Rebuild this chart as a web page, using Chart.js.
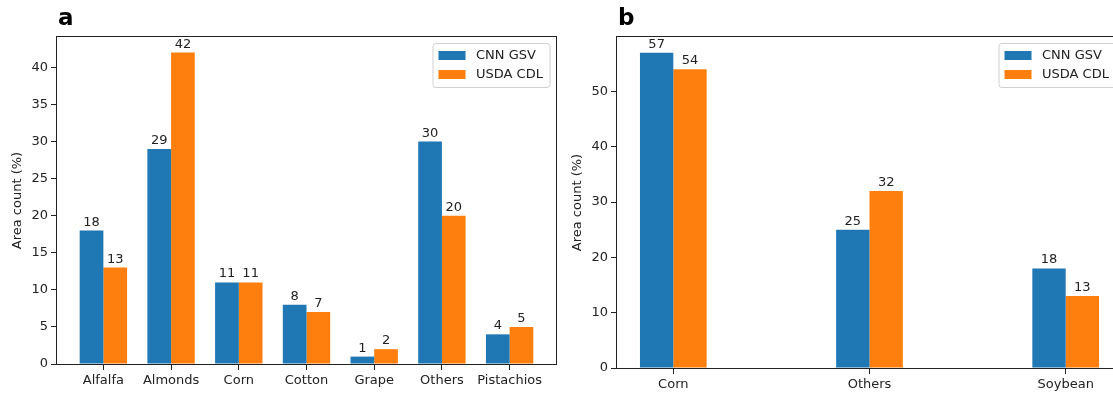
<!DOCTYPE html>
<html><head><meta charset="utf-8">
<script src="https://cdn.jsdelivr.net/npm/chart.js@4"></script>
<style>
html,body{margin:0;padding:0;background:#fff;overflow:hidden;width:1113px;height:396px;position:relative;}
#ca{position:absolute;left:0;top:0;}
#cb{position:absolute;left:560px;top:0;}
</style></head><body>
<canvas id="ca" width="560" height="396"></canvas>
<canvas id="cb" width="566" height="396"></canvas>
<script>
// ---- data ----
const seriesNames = ['CNN GSV', 'USDA CDL'];
const catsA = ['Alfalfa', 'Almonds', 'Corn', 'Cotton', 'Grape', 'Others', 'Pistachios'];
const cnnA = [18, 29, 11, 8, 1, 30, 4];
const usdaA = [13, 42, 11, 7, 2, 20, 5];
const yTicksA = [0, 5, 10, 15, 20, 25, 30, 35, 40];
const catsB = ['Corn', 'Others', 'Soybean'];
const cnnB = [57, 25, 18];
const usdaB = [54, 32, 13];
const yTicksB = [0, 10, 20, 30, 40, 50];
const yTitle = 'Area count (%)';

const FONT = "'DejaVu Sans', sans-serif";
const TXT = '#222';
const BLUE = '#1f77b4', ORANGE = '#ff7f0e';

function makeChart(id, letter, cats, s1, s2, yTicks, yMax, barW, xAxisH, topPad) {
  const marg = 0.05 * ((cats.length - 1) + 2 * barW);
  const xMin = -barW - marg, xMax = cats.length - 1 + barW + marg;
  const panel = {
    id: 'panel_' + id,
    afterDraw(chart) {
      const ctx = chart.ctx, a = chart.chartArea;
      ctx.save();
      // value labels
      ctx.font = '13px ' + FONT;
      ctx.fillStyle = TXT;
      ctx.textAlign = 'center';
      ctx.textBaseline = 'alphabetic';
      chart.data.datasets.forEach((ds, di) => {
        const meta = chart.getDatasetMeta(di);
        meta.data.forEach((el, i) => {
          ctx.fillText(String(ds.data[i].y), el.x, el.y - 5);
        });
      });
      // frame
      ctx.strokeStyle = '#222';
      ctx.lineWidth = 1;
      ctx.strokeRect(a.left - 0.5, a.top - 0.5, a.right - a.left + 1, a.bottom - a.top + 1);
      // panel letter
      ctx.font = 'bold 23px ' + FONT;
      ctx.fillStyle = '#000';
      ctx.textAlign = 'left';
      ctx.fillText(letter, a.left + 1, 25);
      // legend
      const bw = 117, bh = 44;
      const bx = a.right - 6.5 - bw, by = a.top + 6;
      ctx.beginPath();
      if (ctx.roundRect) ctx.roundRect(bx + 0.5, by + 0.5, bw, bh, 3); else ctx.rect(bx + 0.5, by + 0.5, bw, bh);
      ctx.fillStyle = 'rgba(255,255,255,0.8)';
      ctx.fill();
      ctx.strokeStyle = '#d0d0d0';
      ctx.stroke();
      ctx.font = '13px ' + FONT;
      ctx.textBaseline = 'middle';
      chart.data.datasets.forEach((ds, di) => {
        const cy = by + 12.5 + di * 19;
        ctx.fillStyle = ds.backgroundColor;
        ctx.fillRect(bx + 6, cy - 4.5, 27, 9);
        ctx.fillStyle = TXT;
        ctx.fillText(ds.label, bx + 43.5, cy);
      });
      ctx.restore();
    }
  };
  return new Chart(document.getElementById(id), {
    type: 'bar',
    data: {
      datasets: [
        { label: seriesNames[0], data: s1.map((v, i) => ({ x: i, y: v })), backgroundColor: BLUE, borderWidth: 0 },
        { label: seriesNames[1], data: s2.map((v, i) => ({ x: i, y: v })), backgroundColor: ORANGE, borderWidth: 0 }
      ]
    },
    options: {
      responsive: false, animation: false, devicePixelRatio: 1,
      layout: { padding: { left: 0, right: 4, top: topPad, bottom: 0 } },
      datasets: { bar: { categoryPercentage: 2 * barW, barPercentage: 1 } },
      plugins: { legend: { display: false }, tooltip: { enabled: false } },
      scales: {
        x: {
          type: 'linear', min: xMin, max: xMax, offset: false,
          afterBuildTicks: s => { s.ticks = cats.map((c, i) => ({ value: i })); },
          afterFit: s => { s.height = xAxisH; },
          ticks: { callback: v => cats[v], font: { family: FONT, size: 13 }, color: TXT, padding: 3, maxRotation: 0, autoSkip: false },
          grid: { display: true, offset: false, drawOnChartArea: false, drawTicks: true, tickLength: 6, tickColor: '#222', color: '#222' },
          border: { display: false }
        },
        y: {
          min: 0, max: yMax,
          afterBuildTicks: s => { s.ticks = yTicks.map(v => ({ value: v })); },
          afterFit: s => { s.width = 57; },
          ticks: { font: { family: FONT, size: 13 }, color: TXT, padding: 3 },
          grid: { display: true, drawOnChartArea: false, drawTicks: true, tickLength: 6, tickColor: '#222', color: '#222' },
          border: { display: false },
          title: { display: true, text: yTitle, font: { family: FONT, size: 13 }, color: TXT, padding: { top: 10, bottom: 0 } }
        }
      }
    },
    plugins: [panel]
  });
}

makeChart('ca', 'a', catsA, cnnA, usdaA, yTicksA, 44.1, 0.35, 32, 37);
makeChart('cb', 'b', catsB, cnnB, usdaB, yTicksB, 59.85, 0.17, 28, 37);
</script>
</body></html>
